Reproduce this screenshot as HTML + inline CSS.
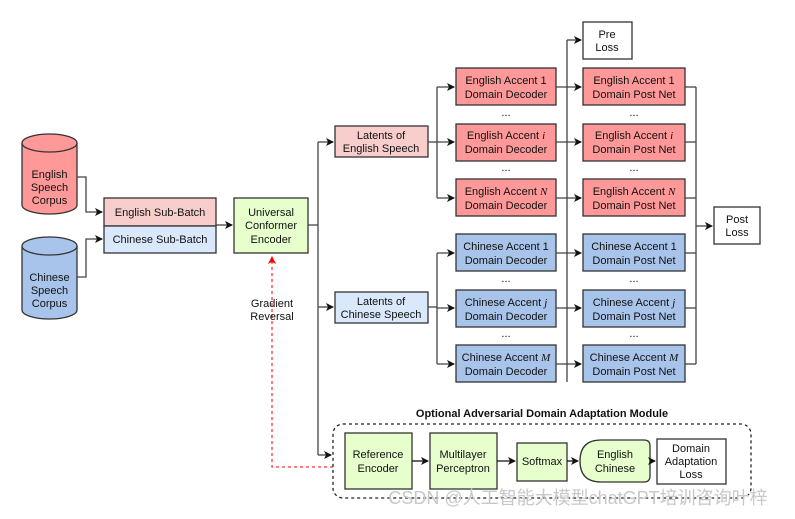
<!DOCTYPE html>
<html><head><meta charset="utf-8"><style>
html,body{margin:0;padding:0;background:#fff;}
svg{display:block;font-family:"Liberation Sans",sans-serif;}
text{font-size:11px;fill:#111;text-anchor:middle;}
</style></head><body>
<svg width="795" height="519" viewBox="0 0 795 519" xmlns="http://www.w3.org/2000/svg">
<defs>
<marker id="a" markerWidth="8" markerHeight="8" refX="7" refY="4" orient="auto" markerUnits="userSpaceOnUse"><path d="M0,0 L8,4 L0,8 L2,4 Z" fill="#111"/></marker>
<marker id="r" markerWidth="8" markerHeight="8" refX="7" refY="4" orient="auto" markerUnits="userSpaceOnUse"><path d="M0,0 L8,4 L0,8 L2,4 Z" fill="#f00"/></marker>
</defs>
<g stroke="#333" stroke-width="1.3" fill="none">
<path d="M22,143 L22,205 A27.5,9 0 0 0 77,205 L77,143" fill="#f99"/>
<ellipse cx="49.5" cy="143" rx="27.5" ry="9" fill="#f99"/>
<path d="M22,246 L22,310 A27.5,9 0 0 0 77,310 L77,246" fill="#a9c4eb"/>
<ellipse cx="49.5" cy="246" rx="27.5" ry="9" fill="#a9c4eb"/>
<rect x="104" y="198" width="112" height="28" fill="#f8cecc"/>
<rect x="104" y="226" width="112" height="27" fill="#dae8fc"/>
<rect x="234" y="198" width="74" height="55" fill="#e6ffcc"/>
<rect x="335" y="126" width="93" height="31" fill="#f8cecc"/>
<rect x="335" y="292" width="93" height="31" fill="#dae8fc"/>
<g fill="#f99"><rect x="456" y="68" width="100" height="37"/><rect x="456" y="124" width="100" height="37"/><rect x="456" y="179" width="100" height="37"/>
<rect x="583" y="68" width="102" height="37"/><rect x="583" y="124" width="102" height="37"/><rect x="583" y="179" width="102" height="37"/></g>
<g fill="#a9c4eb"><rect x="456" y="234" width="100" height="37"/><rect x="456" y="290" width="100" height="37"/><rect x="456" y="345" width="100" height="37"/>
<rect x="583" y="234" width="102" height="37"/><rect x="583" y="290" width="102" height="37"/><rect x="583" y="345" width="102" height="37"/></g>
<rect x="583" y="22" width="49" height="37" fill="#fff"/>
<rect x="714" y="207" width="46" height="37" fill="#fff"/>
<g stroke="#444">
<polyline points="77,177 86,177 86,212 102,212" marker-end="url(#a)"/>
<polyline points="77,277 86,277 86,239 102,239" marker-end="url(#a)"/>
<line x1="216" y1="225" x2="232" y2="225" marker-end="url(#a)"/>
<polyline points="308,225 318,225"/>
<line x1="318" y1="142" x2="318" y2="455"/>
<line x1="318" y1="142" x2="333" y2="142" marker-end="url(#a)"/>
<line x1="318" y1="307" x2="333" y2="307" marker-end="url(#a)"/>
<line x1="318" y1="455" x2="331" y2="455" marker-end="url(#a)"/>
<line x1="428" y1="142" x2="437" y2="142"/><line x1="437" y1="87" x2="437" y2="198"/>
<line x1="437" y1="87" x2="454" y2="87" marker-end="url(#a)"/><line x1="437" y1="142" x2="454" y2="142" marker-end="url(#a)"/><line x1="437" y1="198" x2="454" y2="198" marker-end="url(#a)"/>
<line x1="428" y1="307" x2="437" y2="307"/><line x1="437" y1="253" x2="437" y2="364"/>
<line x1="437" y1="253" x2="454" y2="253" marker-end="url(#a)"/><line x1="437" y1="308" x2="454" y2="308" marker-end="url(#a)"/><line x1="437" y1="364" x2="454" y2="364" marker-end="url(#a)"/>
<line x1="567" y1="40" x2="567" y2="382"/><line x1="567" y1="40" x2="581" y2="40" marker-end="url(#a)"/>
<line x1="556" y1="87" x2="581" y2="87" marker-end="url(#a)"/><line x1="556" y1="142" x2="581" y2="142" marker-end="url(#a)"/><line x1="556" y1="198" x2="581" y2="198" marker-end="url(#a)"/>
<line x1="556" y1="253" x2="581" y2="253" marker-end="url(#a)"/><line x1="556" y1="308" x2="581" y2="308" marker-end="url(#a)"/><line x1="556" y1="364" x2="581" y2="364" marker-end="url(#a)"/>
<line x1="685" y1="87" x2="696" y2="87"/><line x1="685" y1="142" x2="696" y2="142"/><line x1="685" y1="198" x2="696" y2="198"/>
<line x1="685" y1="253" x2="696" y2="253"/><line x1="685" y1="308" x2="696" y2="308"/><line x1="685" y1="364" x2="696" y2="364"/>
<line x1="696" y1="87" x2="696" y2="364"/><line x1="696" y1="226" x2="712" y2="226" marker-end="url(#a)"/>
</g>
<polyline points="333,467 272,467 272,257" stroke="#f33" stroke-dasharray="3,3" marker-end="url(#r)"/>
<rect x="333" y="424" width="418" height="74" rx="10" stroke="#222" stroke-dasharray="3,3"/>
<rect x="345" y="433" width="67" height="56" fill="#e6ffcc"/>
<rect x="430" y="433" width="67" height="56" fill="#e6ffcc"/>
<rect x="517" y="443" width="50" height="38" fill="#e6ffcc"/>
<path d="M601,440 L644,440 Q650,440 650,446 L650,476 Q650,482 644,482 L601,482 Q580,482 580,461 Q580,440 601,440 Z" fill="#e6ffcc"/>
<rect x="657" y="439" width="69" height="45" fill="#fff"/>
<g stroke="#111"><line x1="412" y1="461" x2="428" y2="461" marker-end="url(#a)"/><line x1="497" y1="461" x2="515" y2="461" marker-end="url(#a)"/><line x1="567" y1="461" x2="578" y2="461" marker-end="url(#a)"/><line x1="650" y1="461" x2="655" y2="461" marker-end="url(#a)"/></g>
</g>
<text x="49.5" y="178">English</text><text x="49.5" y="191">Speech</text><text x="49.5" y="204">Corpus</text>
<text x="49.5" y="281">Chinese</text><text x="49.5" y="294">Speech</text><text x="49.5" y="307">Corpus</text>
<text x="160" y="216">English Sub-Batch</text><text x="160" y="243">Chinese Sub-Batch</text>
<text x="271" y="216">Universal</text><text x="271" y="229">Conformer</text><text x="271" y="243">Encoder</text>
<text x="272" y="307">Gradient</text><text x="272" y="320">Reversal</text>
<text x="381" y="139">Latents of</text><text x="381" y="152">English Speech</text>
<text x="381" y="305">Latents of</text><text x="381" y="318">Chinese Speech</text>
<text x="607" y="38">Pre</text><text x="607" y="51">Loss</text>
<text x="737" y="223">Post</text><text x="737" y="236">Loss</text>
<g>
<text x="506" y="84">English Accent 1</text><text x="506" y="98">Domain Decoder</text>
<text x="506" y="139">English Accent <tspan font-style="italic" font-family="Liberation Serif">i</tspan></text><text x="506" y="153">Domain Decoder</text>
<text x="506" y="195">English Accent <tspan font-style="italic" font-family="Liberation Serif">N</tspan></text><text x="506" y="209">Domain Decoder</text>
<text x="506" y="250">Chinese Accent 1</text><text x="506" y="264">Domain Decoder</text>
<text x="506" y="306">Chinese Accent <tspan font-style="italic" font-family="Liberation Serif">j</tspan></text><text x="506" y="320">Domain Decoder</text>
<text x="506" y="361">Chinese Accent <tspan font-style="italic" font-family="Liberation Serif">M</tspan></text><text x="506" y="375">Domain Decoder</text>
<text x="634" y="84">English Accent 1</text><text x="634" y="98">Domain Post Net</text>
<text x="634" y="139">English Accent <tspan font-style="italic" font-family="Liberation Serif">i</tspan></text><text x="634" y="153">Domain Post Net</text>
<text x="634" y="195">English Accent <tspan font-style="italic" font-family="Liberation Serif">N</tspan></text><text x="634" y="209">Domain Post Net</text>
<text x="634" y="250">Chinese Accent 1</text><text x="634" y="264">Domain Post Net</text>
<text x="634" y="306">Chinese Accent <tspan font-style="italic" font-family="Liberation Serif">j</tspan></text><text x="634" y="320">Domain Post Net</text>
<text x="634" y="361">Chinese Accent <tspan font-style="italic" font-family="Liberation Serif">M</tspan></text><text x="634" y="375">Domain Post Net</text>
</g>
<g font-size="9"><text x="506" y="116">...</text><text x="506" y="171">...</text><text x="506" y="282">...</text><text x="506" y="337">...</text>
<text x="634" y="116">...</text><text x="634" y="171">...</text><text x="634" y="282">...</text><text x="634" y="337">...</text></g>
<text x="542" y="417" font-weight="bold">Optional Adversarial Domain Adaptation Module</text>
<text x="378" y="458">Reference</text><text x="378" y="472">Encoder</text>
<text x="463" y="458">Multilayer</text><text x="463" y="472">Perceptron</text>
<text x="542" y="465">Softmax</text>
<text x="615" y="458">English</text><text x="615" y="472">Chinese</text>
<text x="691" y="452">Domain</text><text x="691" y="465">Adaptation</text><text x="691" y="478">Loss</text>
<text x="578" y="504" style="font-size:18px;fill:#c8c8c8;font-family:'Liberation Sans','Noto Sans CJK SC',sans-serif">CSDN @人工智能大模型chatGPT培训咨询叶梓</text>
</svg>
</body></html>
